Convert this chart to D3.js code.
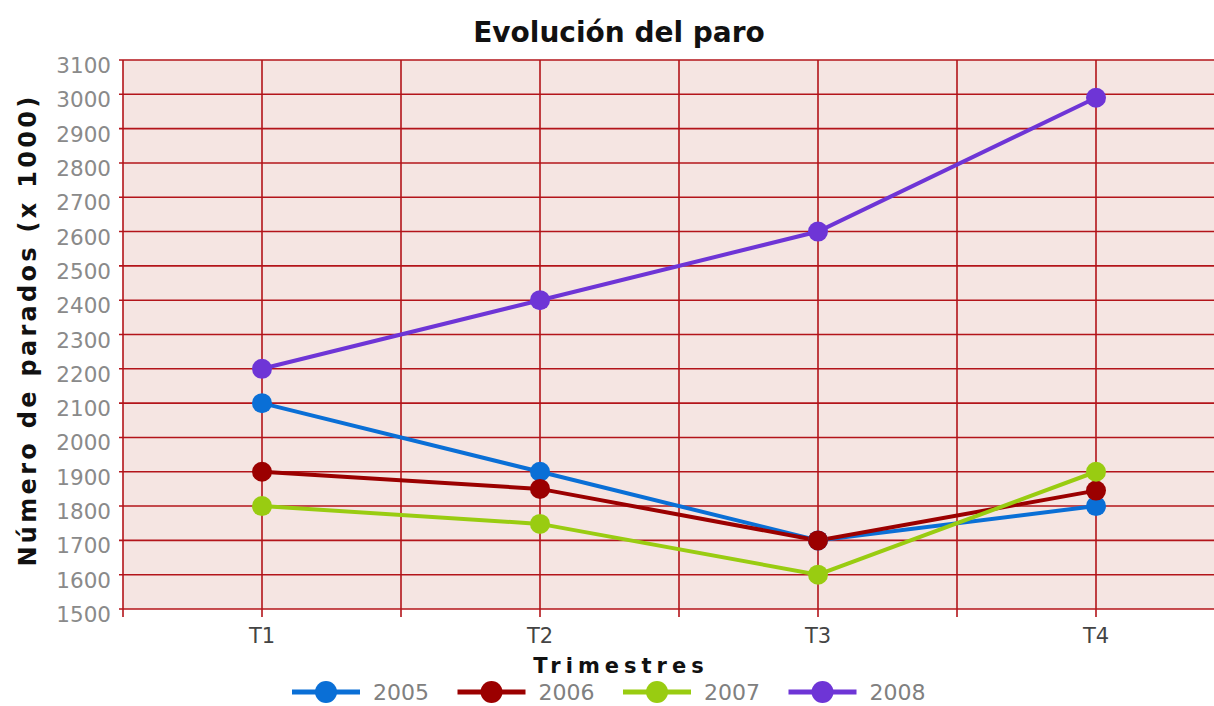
<!DOCTYPE html>
<html><head><meta charset="utf-8">
<script src="https://cdn.jsdelivr.net/npm/d3@7"></script>
<style>body{margin:0;background:#fff;}svg{display:block;font-family:"DejaVu Sans",Verdana,sans-serif;}</style>
</head><body><svg id="c" width="1214" height="706"></svg>
<script>
const categories = ["T1","T2","T3","T4"];
const seriesNames = ["2005","2006","2007","2008"];
const v2005 = [2100,1900,1700,1800];
const v2006 = [1900,1850,1700,1845];
const v2007 = [1800,1748,1600,1900];
const v2008 = [2200,2400,2600,2990];
const yTicks = [1500,1600,1700,1800,1900,2000,2100,2200,2300,2400,2500,2600,2700,2800,2900,3000,3100];
const colors = ["#0a6fd6","#9b0000","#99cc11","#6e35d6"];
const series = [v2005,v2006,v2007,v2008];

const svg = d3.select("#c");
const L = 123, T = 60, B = 609, R = 1235;
const x = d3.scalePoint().domain(categories).range([L, R]).padding(0.5);
const step = x.step();
const y = d3.scaleLinear().domain([1500,3100]).range([B, T]);

svg.append("rect").attr("x",L).attr("y",T).attr("width",R-L).attr("height",B-T).attr("fill","#f5e5e2");
const grid = "#b3141a";
svg.append("g").selectAll("line").data(yTicks).join("line")
  .attr("x1",L-4).attr("x2",R).attr("y1",d=>y(d)).attr("y2",d=>y(d))
  .attr("stroke",grid).attr("stroke-width",1.6);
const vx = [];
categories.forEach(c=>{vx.push(x(c)-step/2); vx.push(x(c));});
svg.append("g").selectAll("line").data(vx).join("line")
  .attr("x1",d=>d).attr("x2",d=>d).attr("y1",T).attr("y2",B+8)
  .attr("stroke",grid).attr("stroke-width",1.6);

svg.append("g").selectAll("text").data(yTicks).join("text")
  .attr("x",111).attr("y",d=>y(d)+13).attr("text-anchor","end")
  .attr("font-size",21.5).attr("fill","#8a8a8a").text(d=>d);
svg.append("g").selectAll("text").data(categories).join("text")
  .attr("x",d=>x(d)).attr("y",643).attr("text-anchor","middle")
  .attr("font-size",21).attr("fill","#444").text(d=>d);

svg.append("text").attr("x",619).attr("y",42).attr("text-anchor","middle")
  .attr("font-size",28).attr("font-weight","bold").attr("fill","#111").text("Evolución del paro");
svg.append("text").attr("transform","translate(36,330) rotate(-90)").attr("text-anchor","middle")
  .attr("font-size",24).attr("font-weight","bold").attr("fill","#111").attr("letter-spacing","3.3px").text("Número de parados (x 1000)");
svg.append("text").attr("x",621).attr("y",673).attr("text-anchor","middle")
  .attr("font-size",21).attr("font-weight","bold").attr("fill","#111").attr("letter-spacing","5px").text("Trimestres");

const line = d3.line().x((d,i)=>x(categories[i])).y(d=>y(d));
series.forEach((s,k)=>{
  svg.append("path").attr("d",line(s)).attr("fill","none").attr("stroke",colors[k]).attr("stroke-width",4);
});
series.forEach((s,k)=>{
  svg.append("g").selectAll("circle").data(s).join("circle")
    .attr("cx",(d,i)=>x(categories[i])).attr("cy",d=>y(d)).attr("r",10).attr("fill",colors[k]);
});

const lg = svg.append("g").attr("transform","translate(292,692)");
seriesNames.forEach((n,k)=>{
  const g = lg.append("g").attr("transform",`translate(${k*165.5},0)`);
  g.append("line").attr("x1",0).attr("x2",68).attr("y1",0).attr("y2",0).attr("stroke",colors[k]).attr("stroke-width",5);
  g.append("circle").attr("cx",34).attr("cy",0).attr("r",11).attr("fill",colors[k]);
  g.append("text").attr("x",81).attr("y",8).attr("font-size",22).attr("fill","#808080").text(n);
});
</script></body></html>
